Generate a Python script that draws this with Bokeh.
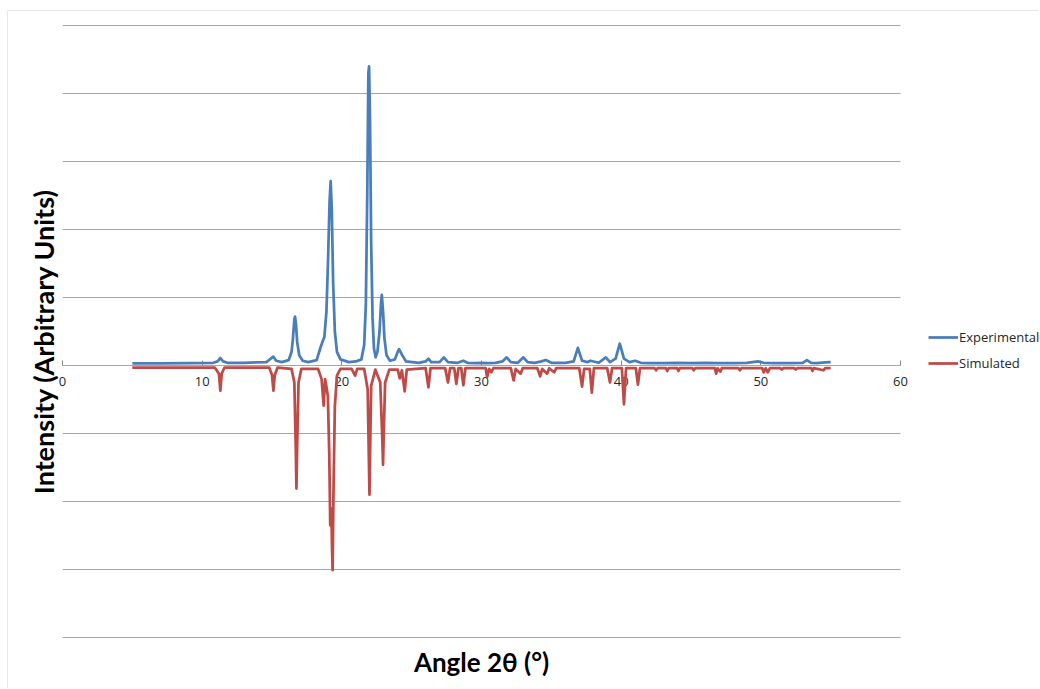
import math
from bokeh.plotting import figure
from bokeh.models import (Range1d, FixedTicker, SingleIntervalTicker, Legend, LegendItem,
                          Label, ColumnDataSource, BoxAnnotation)
from bokeh.embed import file_html
from bokeh.resources import INLINE

# ---------------- data ----------------
# Experimental pattern: 2-theta (deg) and intensity (arbitrary units, gridline = 1000)
exp_2theta = [5.0, 7.0, 9.0, 10.8, 11.1, 11.3, 11.5, 11.8, 13.0, 14.6, 14.9, 15.1, 15.3, 15.7,
              16.2, 16.4, 16.5, 16.6, 16.65, 16.72, 16.8, 16.95, 17.2, 17.6,
              18.2, 18.45, 18.6, 18.75, 18.9, 19.02, 19.12, 19.2, 19.28, 19.38, 19.5, 19.65,
              19.9, 20.5, 21.0, 21.4, 21.6, 21.72, 21.82, 21.9, 21.95, 22.02, 22.1, 22.2,
              22.3, 22.42, 22.55, 22.7, 22.8, 22.86, 22.95, 23.05, 23.2, 23.45, 23.8, 24.0,
              24.1, 24.3, 24.6,
              25.5, 26.0, 26.2, 26.4, 27.0, 27.3, 27.6, 28.3, 28.7, 29.0, 29.5, 30.0, 30.5,
              31.0, 31.5, 31.8, 32.1, 32.6, 33.0, 33.3, 33.8, 34.3, 34.6, 35.0, 35.5, 36.0,
              36.6, 36.9, 37.2, 37.6, 37.8, 38.4, 38.9, 39.2, 39.6, 39.9, 40.2, 40.6, 41.0,
              41.4, 42.0, 43.0, 44.0, 45.0, 46.0, 47.0, 48.0, 49.0, 49.8, 50.2, 51.0, 52.0,
              53.0, 53.3, 53.6, 54.0, 54.6, 55.0]
exp_intensity = [30, 30, 35, 40, 60, 110, 60, 40, 40, 50, 100, 130, 70, 50,
                 80, 200, 400, 680, 720, 600, 350, 150, 70, 50,
                 80, 250, 340, 420, 800, 1600, 2400, 2710, 2300, 1200, 500, 200,
                 90, 50, 60, 90, 300, 900, 2500, 4300, 4400, 3600, 1800, 700,
                 250, 120, 200, 500, 900, 1040, 800, 400, 150, 70, 90, 200,
                 240, 160, 60,
                 40, 60, 100, 50, 50, 120, 50, 40, 70, 40, 35, 40, 35,
                 40, 60, 120, 50, 40, 120, 50, 40, 60, 80, 40, 40, 40,
                 60, 260, 70, 50, 70, 40, 120, 50, 100, 320, 100, 50, 70,
                 40, 35, 35, 40, 35, 40, 35, 35, 40, 60, 40, 35, 35,
                 40, 80, 40, 35, 45, 50]

# Simulated pattern (plotted downward)
sim_2theta = [5.0, 10.9, 11.2, 11.3, 11.4, 11.6, 14.8, 15.0, 15.1, 15.2, 15.4,
              16.4, 16.6, 16.7, 16.75, 16.8, 16.9, 17.1, 18.3, 18.55, 18.7, 18.8, 18.85,
              19.0, 19.1, 19.17, 19.25, 19.3, 19.34, 19.4, 19.5, 19.65, 19.9, 20.7, 20.95,
              21.1, 21.6, 21.85, 21.93, 21.98, 22.03, 22.1, 22.4, 22.75, 22.9, 22.95, 23.0,
              23.1, 23.4, 24.0, 24.15, 24.3, 24.5,
              24.65, 26.0, 26.2, 26.35, 27.4, 27.6, 27.75, 28.05, 28.2, 28.35, 28.55,
              28.7, 28.85, 30.3, 30.4, 30.55, 30.7, 30.85, 32.1, 32.3, 32.45, 32.8,
              32.95, 34.0, 34.2, 34.35, 34.7, 34.85, 35.2, 35.35, 37.0, 37.2, 37.35,
              37.75, 37.9, 38.05, 39.0, 39.2, 39.35, 40.05, 40.2, 40.35, 41.05, 41.2,
              41.35, 42.4, 42.5, 42.6, 43.2, 43.3, 43.4, 44.0, 44.1, 44.2, 45.1, 45.2,
              45.3, 46.7, 46.8, 46.9, 47.1, 47.2, 48.4, 48.5, 48.6, 50.1, 50.2, 50.35,
              50.5, 50.65, 51.4, 51.5, 51.6, 52.4, 52.5, 52.6, 53.6, 53.7, 53.8, 54.5,
              54.6, 55.0]
sim_intensity = [-30, -30, -120, -370, -120, -30, -30, -140, -370, -140, -30,
                 -50, -250, -1200, -1810, -1200, -250, -50, -50, -200, -590, -200, -250,
                 -450, -1300, -2350, -2100, -2700, -3010, -1900, -600, -150, -50, -50, -150,
                 -50, -50, -350, -1300, -1900, -1200, -300, -60, -250, -1100, -1460, -1000,
                 -250, -60, -60, -190, -70, -380,
                 -60, -40, -320, -40, -40, -250, -40, -40, -270, -40, -40,
                 -290, -40, -40, -170, -50, -100, -40, -40, -220, -50, -120,
                 -40, -40, -160, -50, -120, -40, -100, -40, -40, -310, -50,
                 -50, -400, -40, -40, -250, -40, -40, -570, -40, -40, -280,
                 -40, -40, -70, -40, -40, -80, -40, -40, -80, -40, -40, -70,
                 -40, -40, -120, -40, -90, -40, -40, -70, -40, -40, -100, -40,
                 -100, -40, -40, -60, -40, -40, -60, -40, -40, -80, -40, -70,
                 -40, -40]

x_ticks = [0, 10, 20, 30, 40, 50, 60]
series_names = ["Experimental", "Simulated"]
series_colors = ["#4A7EBB", "#BE4B48"]

# ---------------- figure ----------------
W, H = 1039, 688
PX_X = 838 / 60.0       # pixels per degree
PX_Y = 68 / 1000.0      # pixels per intensity unit
x0 = -62 / PX_X
x1 = 60 + (W - 900) / PX_X
y1 = 5000 + 25 / PX_Y
y0 = -4000 - (H - 637) / PX_Y

p = figure(width=W, height=H, output_backend="svg", toolbar_location=None,
           x_range=Range1d(x0, x1), y_range=Range1d(y0, y1),
           min_border=0)
p.outline_line_color = None
p.background_fill_color = "white"
p.border_fill_color = "white"

# chart-area border (top/left visible)
p.add_layout(BoxAnnotation(left=(7 - 62) / PX_X, top=5000 + 15 / PX_Y,
                           right=x1 + 5, bottom=y0 - 100,
                           fill_alpha=0, line_color="#b4b4b4", line_width=1,
                           level="underlay"))

# grid
p.xgrid.visible = False
p.ygrid.ticker = SingleIntervalTicker(interval=1000)
p.ygrid.bounds = (-4000, 5000)
p.ygrid.cross_bounds = (x_ticks[0], x_ticks[-1])
p.ygrid.grid_line_color = "#a6a6a6"
p.ygrid.grid_line_width = 1
p.yaxis.visible = False

# x axis sitting on y = 0
xa = p.xaxis[0]
xa.fixed_location = 0
xa.bounds = (x_ticks[0], x_ticks[-1])
xa.ticker = FixedTicker(ticks=x_ticks)
xa.axis_line_color = "#868686"
xa.major_tick_line_color = "#868686"
xa.major_tick_in = 5
xa.major_tick_out = 0
xa.minor_tick_line_color = None
xa.major_label_standoff = 11
xa.major_label_text_font = "Open Sans"
xa.major_label_text_font_size = "13px"
xa.major_label_text_color = "#262626"
xa.level = "underlay"

# series
src_e = ColumnDataSource(dict(x=exp_2theta, y=exp_intensity))
src_s = ColumnDataSource(dict(x=sim_2theta, y=sim_intensity))
r_e = p.line("x", "y", source=src_e, line_color=series_colors[0], line_width=2.75,
             line_join="round")
r_s = p.line("x", "y", source=src_s, line_color=series_colors[1], line_width=2.75,
             line_join="round")

legend = Legend(items=[LegendItem(label=series_names[0], renderers=[r_e]),
                       LegendItem(label=series_names[1], renderers=[r_s])],
                location=(928, H - 372), margin=0, padding=0, spacing=8,
                glyph_width=30, glyph_height=18, label_height=18, label_standoff=1,
                label_text_font="Open Sans", label_text_font_size="13px",
                label_text_color="#262626", border_line_color=None,
                background_fill_alpha=0)
p.add_layout(legend)

# axis titles
p.add_layout(Label(x=30, y=-4353, text="Angle 2θ (°)", text_align="center",
                   text_baseline="middle", text_font="Lato", text_font_style="bold",
                   text_font_size="26px", text_color="#000000"))
p.add_layout(Label(x=-19 / PX_X, y=353, text="Intensity (Arbitrary Units)", angle=math.pi / 2,
                   text_align="center", text_baseline="middle", text_font="Lato",
                   text_font_style="bold", text_font_size="27px", text_color="#000000"))

open("out.html", "w").write(file_html(p, INLINE))
